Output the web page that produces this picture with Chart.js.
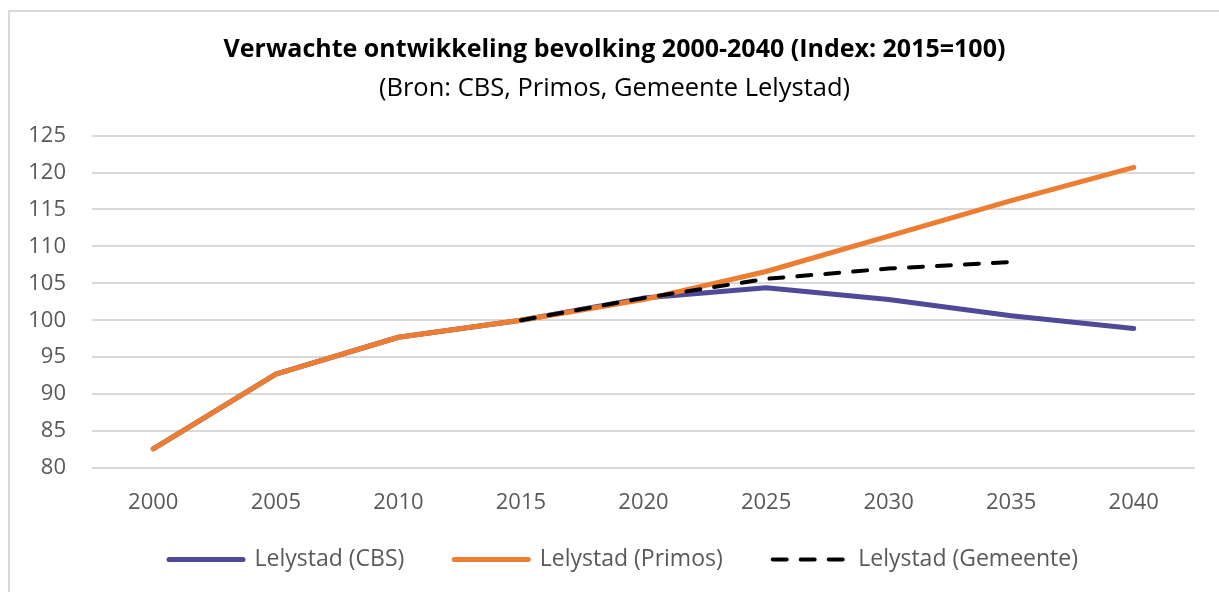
<!DOCTYPE html>
<html lang="nl">
<head>
    <meta charset="UTF-8">
    <title>Verwachte ontwikkeling bevolking</title>
    <script src="https://cdn.jsdelivr.net/npm/chart.js"></script>
    <style>
        html, body { margin: 0; padding: 0; background: #fff; overflow: hidden; }
        .wrap { position: relative; width: 1219px; height: 592px; }
        .frame { position: absolute; left: 8px; top: 10px; right: 0; bottom: 0; border-left: 2px solid #d9d9d9; border-top: 2px solid #d9d9d9; pointer-events: none; }
        canvas { position: absolute; left: 0; top: 0; }
    </style>
</head>
<body>
    <div class="wrap">
        <canvas id="chart" width="1219" height="592"></canvas>
        <div class="frame"></div>
    </div>

    <script>
        // data
        const years = ['2000', '2005', '2010', '2015', '2020', '2025', '2030', '2035', '2040'];
        const cbs = [82.6, 92.7, 97.7, 100, 103.0, 104.4, 102.8, 100.6, 98.9];
        const primos = [82.6, 92.7, 97.7, 100, 102.8, 106.6, 111.4, 116.2, 120.7];
        const gemeente = [null, null, null, 100, 103.0, 105.6, 107.0, 107.9, null];
        const yTicks = [80, 85, 90, 95, 100, 105, 110, 115, 120, 125];

        const font = '"Open Sans", "Noto Sans", sans-serif';

        // x axis is squeezed for layout, give its labels room to draw again;
        // titles and legend sit centred on the whole frame, not the plot
        const tweakLayout = {
            id: 'tweakLayout',
            afterLayout(chart) {
                const x = chart.scales.x;
                x.height = 60;
                x.bottom = x.top + 60;
                chart.boxes.forEach(b => {
                    if (b.axis) return;
                    const dx = b === chart.legend ? 26 : 17;
                    b.left += dx;
                    b.right += dx;
                });
            }
        };

        new Chart(document.getElementById('chart'), {
            type: 'line',
            data: {
                labels: years,
                datasets: [
                    { label: 'Lelystad (CBS)', data: cbs, borderColor: '#4f4a98', backgroundColor: '#4f4a98', borderWidth: 5, order: 3 },
                    { label: 'Lelystad (Primos)', data: primos, borderColor: '#ed7d31', backgroundColor: '#ed7d31', borderWidth: 5, order: 2 },
                    { label: 'Lelystad (Gemeente)', data: gemeente, borderColor: '#000', backgroundColor: '#000', borderWidth: 4, borderDash: [14, 14], order: 1 }
                ]
            },
            options: {
                responsive: false,
                animation: false,
                elements: {
                    point: { radius: 0, hoverRadius: 0 },
                    line: { tension: 0, borderCapStyle: 'round', borderJoinStyle: 'round' }
                },
                layout: { padding: { left: 0, right: 24, top: 35, bottom: 11 } },
                plugins: {
                    tooltip: { enabled: false },
                    title: {
                        display: true,
                        text: 'Verwachte ontwikkeling bevolking 2000-2040 (Index: 2015=100)',
                        color: '#000',
                        font: { family: font, size: 25, weight: 'bold' },
                        padding: { top: 0, bottom: 8 }
                    },
                    subtitle: {
                        display: true,
                        text: '(Bron: CBS, Primos, Gemeente Lelystad)',
                        color: '#000',
                        font: { family: font, size: 25.5 },
                        padding: { top: 0, bottom: 32 }
                    },
                    legend: {
                        position: 'bottom',
                        labels: {
                            usePointStyle: true,
                            pointStyle: 'line',
                            pointStyleWidth: 74,
                            padding: 50,
                            color: '#595959',
                            font: { family: font, size: 23 },
                            sort: (a, b) => a.datasetIndex - b.datasetIndex,
                            generateLabels: (chart) => {
                                const items = Chart.defaults.plugins.legend.labels.generateLabels(chart);
                                items.forEach(it => {
                                    const ds = chart.data.datasets[it.datasetIndex];
                                    it.lineDash = ds.borderDash || [];
                                    it.lineCap = 'round';
                                    it.lineWidth = ds.borderWidth;
                                    it.strokeStyle = ds.borderColor;
                                });
                                return items;
                            }
                        }
                    }
                },
                scales: {
                    x: {
                        offset: true,
                        afterFit: (axis) => { axis.height = 30; },
                        grid: { display: false },
                        border: { display: false },
                        ticks: { color: '#595959', font: { family: font, size: 22 }, padding: 14 }
                    },
                    y: {
                        min: 80,
                        max: 125,
                        afterBuildTicks: (axis) => { axis.ticks = yTicks.map(v => ({ value: v })); },
                        afterFit: (axis) => { axis.width = 92; },
                        grid: { color: '#d9d9d9', lineWidth: 2, drawTicks: false },
                        border: { display: false },
                        ticks: { color: '#595959', font: { family: font, size: 22 }, padding: 26 }
                    }
                }
            },
            plugins: [tweakLayout]
        });
    </script>
</body>
</html>
